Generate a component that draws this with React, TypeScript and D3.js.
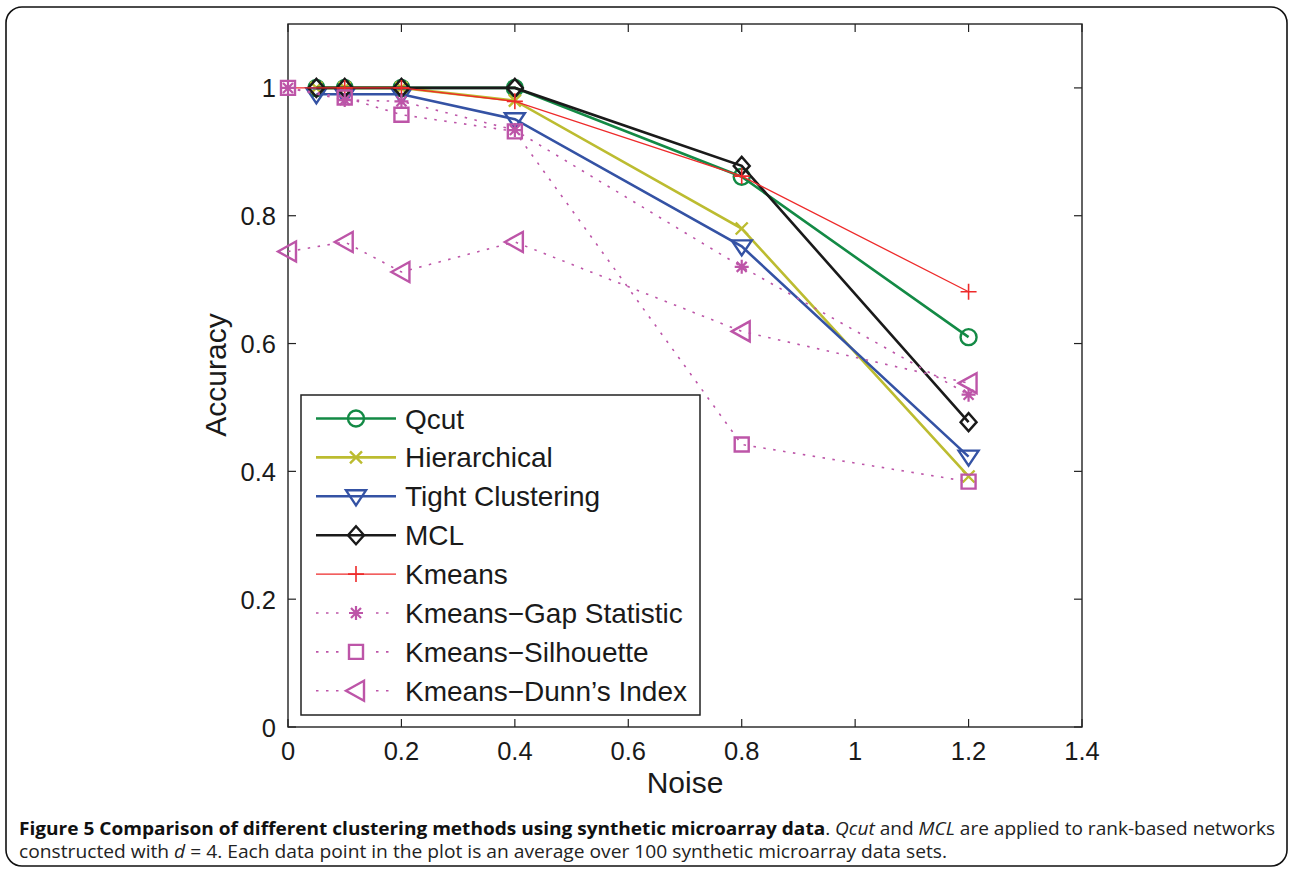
import React from "react";
import * as d3 from "d3";

// Noise levels
const noiseA = [0.05, 0.1, 0.2, 0.4, 0.8, 1.2];
const noiseK = [0, 0.1, 0.2, 0.4, 0.8, 1.2];

// Accuracy per method
const qcut = [1, 1, 1, 1, 0.861, 0.61];
const hierarchical = [1, 1, 1, 0.98, 0.78, 0.392];
const tight = [0.99, 0.99, 0.99, 0.951, 0.752, 0.423];
const mcl = [1, 1, 1, 1, 0.878, 0.477];
const kmeans = [1, 1, 1, 0.979, 0.862, 0.681];
const kmeansGap = [1, 0.981, 0.979, 0.934, 0.72, 0.52];
const kmeansSil = [1, 0.985, 0.958, 0.932, 0.442, 0.384];
const kmeansDunn = [0.744, 0.759, 0.712, 0.759, 0.619, 0.538];

const xTicks = [0, 0.2, 0.4, 0.6, 0.8, 1, 1.2, 1.4];
const yTicks = [0, 0.2, 0.4, 0.6, 0.8, 1];

type MarkerKind = "circle" | "x" | "triDown" | "diamond" | "plus" | "star" | "square" | "triLeft";

interface Series {
  name: string;
  xs: number[];
  ys: number[];
  color: string;
  width: number;
  dotted: boolean;
  marker: MarkerKind;
  markerWidth: number;
}

const series: Series[] = [
  { name: "Qcut", xs: noiseA, ys: qcut, color: "#138a45", width: 2.6, dotted: false, marker: "circle", markerWidth: 2.4 },
  { name: "Hierarchical", xs: noiseA, ys: hierarchical, color: "#bcbc30", width: 2.6, dotted: false, marker: "x", markerWidth: 2.4 },
  { name: "Tight Clustering", xs: noiseA, ys: tight, color: "#3452a4", width: 2.6, dotted: false, marker: "triDown", markerWidth: 2.4 },
  { name: "MCL", xs: noiseA, ys: mcl, color: "#1a1a1a", width: 2.6, dotted: false, marker: "diamond", markerWidth: 2.4 },
  { name: "Kmeans", xs: noiseK, ys: kmeans, color: "#ee2a2a", width: 1.3, dotted: false, marker: "plus", markerWidth: 1.6 },
  { name: "Kmeans\u2212Gap Statistic", xs: noiseK, ys: kmeansGap, color: "#bd55a8", width: 1.6, dotted: true, marker: "star", markerWidth: 2.2 },
  { name: "Kmeans\u2212Silhouette", xs: noiseK, ys: kmeansSil, color: "#bd55a8", width: 1.6, dotted: true, marker: "square", markerWidth: 2.4 },
  { name: "Kmeans\u2212Dunn\u2019s Index", xs: noiseK, ys: kmeansDunn, color: "#bd55a8", width: 1.6, dotted: true, marker: "triLeft", markerWidth: 2.4 },
];

const markerPath = (kind: MarkerKind): string => {
  switch (kind) {
    case "circle":
      return "M8,0A8,8 0 1,1 -8,0A8,8 0 1,1 8,0Z";
    case "x":
      return "M-6,-6L6,6M-6,6L6,-6";
    case "triDown":
      return "M-10,-6L10,-6L0,9Z";
    case "diamond":
      return "M0,-9L8,0L0,9L-8,0Z";
    case "plus":
      return "M-8,0L8,0M0,-8L0,8";
    case "star":
      return "M-7,0L7,0M0,-7L0,7M-5,-5L5,5M-5,5L5,-5";
    case "square":
      return "M-7,-7L7,-7L7,7L-7,7Z";
    case "triLeft":
      return "M-10,0L8,-10L8,10Z";
  }
};

const W = 1292;
const H = 873;
const plot = { left: 288, right: 1082, top: 24, bottom: 727 };
const AXIS_FONT = "'Liberation Sans', Arial, Helvetica, sans-serif";
const CAPTION_FONT = "'Open Sans', 'Noto Sans', sans-serif";

export default function App() {
  const x = d3.scaleLinear().domain([0, 1.4]).range([plot.left, plot.right]);
  const y = d3.scaleLinear().domain([0, 1.1]).range([plot.bottom, plot.top]);
  const line = d3
    .line<[number, number]>()
    .x((d) => x(d[0]))
    .y((d) => y(d[1]));

  const tickLen = 8;
  const legend = { x: 301, y: 395, w: 399, h: 320, rowY0: 418.5, rowStep: 38.9 };

  return (
    <svg
      width={W}
      height={H}
      viewBox={`0 0 ${W} ${H}`}
      style={{ position: "absolute", left: 0, top: 0, background: "#fff" }}
    >
      {/* figure frame */}
      <rect x={6} y={7} width={1281} height={859} rx={16} ry={16} fill="none" stroke="#111" strokeWidth={1.6} />

      {/* axes box */}
      <rect
        x={plot.left}
        y={plot.top}
        width={plot.right - plot.left}
        height={plot.bottom - plot.top}
        fill="#fff"
        stroke="#222"
        strokeWidth={1.4}
      />

      {/* ticks */}
      {xTicks.map((t) => (
        <g key={`xt${t}`}>
          <line x1={x(t)} x2={x(t)} y1={plot.bottom} y2={plot.bottom - tickLen} stroke="#222" strokeWidth={1.2} />
          <line x1={x(t)} x2={x(t)} y1={plot.top} y2={plot.top + tickLen} stroke="#222" strokeWidth={1.2} />
          <text x={x(t)} y={760} textAnchor="middle" fontFamily={AXIS_FONT} fontSize={25.5} fill="#1a1a1a">
            {String(t)}
          </text>
        </g>
      ))}
      {yTicks.map((t) => (
        <g key={`yt${t}`}>
          <line x1={plot.left} x2={plot.left + tickLen} y1={y(t)} y2={y(t)} stroke="#222" strokeWidth={1.2} />
          <line x1={plot.right} x2={plot.right - tickLen} y1={y(t)} y2={y(t)} stroke="#222" strokeWidth={1.2} />
          <text x={276} y={y(t) + 9.5} textAnchor="end" fontFamily={AXIS_FONT} fontSize={25.5} fill="#1a1a1a">
            {String(t)}
          </text>
        </g>
      ))}

      {/* axis titles */}
      <text x={685} y={793} textAnchor="middle" fontFamily={AXIS_FONT} fontSize={30} fill="#1a1a1a">
        Noise
      </text>
      <text
        transform={`translate(226,375) rotate(-90)`}
        textAnchor="middle"
        fontFamily={AXIS_FONT}
        fontSize={30}
        fill="#1a1a1a"
      >
        Accuracy
      </text>

      {/* series lines and markers */}
      {series.map((s) => {
        const pts = s.xs.map((xv, i) => [xv, s.ys[i]] as [number, number]);
        return (
          <g key={s.name}>
            <path
              d={line(pts) || ""}
              fill="none"
              stroke={s.color}
              strokeWidth={s.width}
              strokeDasharray={s.dotted ? "2.5 7.5" : undefined}
              strokeLinejoin="miter"
            />
            {pts.map((p, i) => (
              <path
                key={i}
                d={markerPath(s.marker)}
                transform={`translate(${x(p[0])},${y(p[1])})`}
                fill="none"
                stroke={s.color}
                strokeWidth={s.markerWidth}
              />
            ))}
          </g>
        );
      })}

      {/* legend */}
      <rect x={legend.x} y={legend.y} width={legend.w} height={legend.h} fill="#fff" stroke="#222" strokeWidth={1.5} />
      {series.map((s, i) => {
        const cy = legend.rowY0 + i * legend.rowStep;
        return (
          <g key={`lg${s.name}`}>
            {s.dotted ? (
              <>
                <line x1={316} x2={346} y1={cy} y2={cy} stroke={s.color} strokeWidth={s.width} strokeDasharray="2.5 7.5" />
                <line x1={376} x2={396} y1={cy} y2={cy} stroke={s.color} strokeWidth={s.width} strokeDasharray="2.5 7.5" />
              </>
            ) : (
              <line x1={316} x2={396} y1={cy} y2={cy} stroke={s.color} strokeWidth={s.width} />
            )}
            <path
              d={markerPath(s.marker)}
              transform={`translate(356,${cy})`}
              fill="none"
              stroke={s.color}
              strokeWidth={s.markerWidth}
            />
            <text x={405} y={cy + 10} fontFamily={AXIS_FONT} fontSize={28} fill="#1a1a1a">
              {s.name}
            </text>
          </g>
        );
      })}

      {/* caption */}
      <text
        x={19}
        y={835}
        fontFamily={CAPTION_FONT}
        fontSize={18.5}
        fill="#222"
        textLength={1256}
        lengthAdjust="spacingAndGlyphs"
      >
        <tspan fontWeight="bold" fill="#111">
          Figure 5 Comparison of different clustering methods using synthetic microarray data
        </tspan>
        <tspan>. </tspan>
        <tspan fontStyle="italic">Qcut</tspan>
        <tspan> and </tspan>
        <tspan fontStyle="italic">MCL</tspan>
        <tspan> are applied to rank-based networks</tspan>
      </text>
      <text
        x={19}
        y={858}
        fontFamily={CAPTION_FONT}
        fontSize={18.5}
        fill="#222"
        textLength={928}
        lengthAdjust="spacingAndGlyphs"
      >
        <tspan>constructed with </tspan>
        <tspan fontStyle="italic">d</tspan>
        <tspan> = 4. Each data point in the plot is an average over 100 synthetic microarray data sets.</tspan>
      </text>
    </svg>
  );
}
